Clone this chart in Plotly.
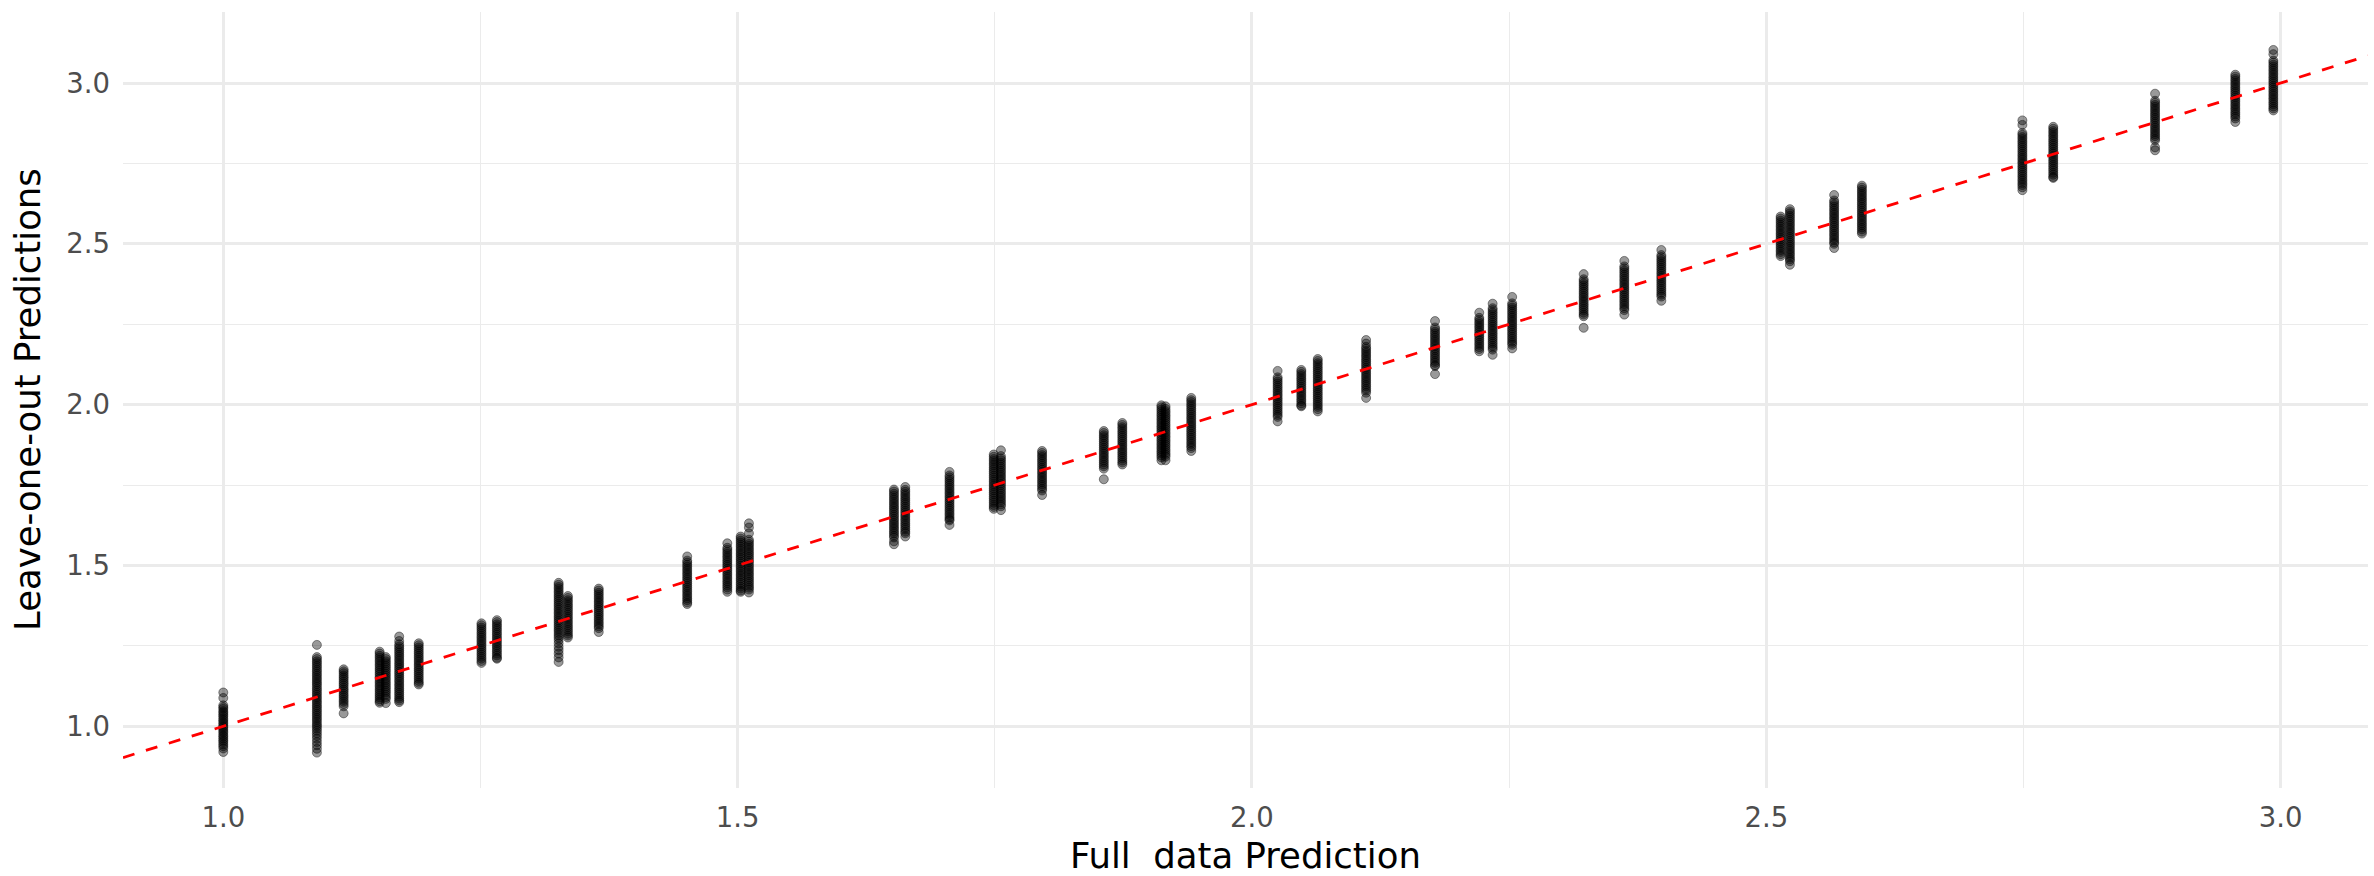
import plotly.graph_objects as go

# Full-data prediction (x) for each leave-one-out cluster
cluster_x = [1.000, 1.091, 1.117, 1.152, 1.158, 1.171, 1.190, 1.251, 1.266, 1.326,
             1.335, 1.365, 1.451, 1.490, 1.503, 1.511, 1.652, 1.663, 1.706, 1.749,
             1.756, 1.796, 1.856, 1.874, 1.912, 1.916, 1.941, 2.025, 2.048, 2.064,
             2.111, 2.178, 2.221, 2.234, 2.253, 2.3225, 2.362, 2.398, 2.514, 2.523,
             2.566, 2.593, 2.749, 2.779, 2.878, 2.956, 2.993]

# Leave-one-out predictions per cluster
y01 = [1.105, 1.088, 1.065, 1.059, 1.054, 1.047, 1.042, 1.036, 1.031, 1.024, 1.019, 1.013, 1.008, 1.002, 0.997, 0.991, 0.985, 0.980, 0.973, 0.968, 0.962, 0.956, 0.951, 0.944, 0.938, 0.931, 0.920]
y02 = [1.253, 1.215, 1.209, 1.202, 1.196, 1.189, 1.183, 1.176, 1.170, 1.163, 1.157, 1.150, 1.144, 1.137, 1.131, 1.124, 1.117, 1.111, 1.104, 1.098, 1.091, 1.085, 1.078, 1.072, 1.065, 1.059, 1.052, 1.046, 1.039, 1.033, 1.026, 1.020, 1.013, 1.006, 1.000, 0.993, 0.986, 0.978, 0.970, 0.961, 0.951, 0.941, 0.930, 0.918]
y03 = [1.177, 1.171, 1.165, 1.158, 1.152, 1.146, 1.139, 1.133, 1.127, 1.120, 1.114, 1.108, 1.101, 1.095, 1.089, 1.082, 1.076, 1.069, 1.062, 1.040]
y04 = [1.232, 1.226, 1.219, 1.213, 1.206, 1.200, 1.193, 1.187, 1.180, 1.174, 1.167, 1.161, 1.154, 1.148, 1.141, 1.135, 1.128, 1.122, 1.115, 1.109, 1.102, 1.096, 1.090, 1.084, 1.078, 1.073]
y05 = [1.215, 1.209, 1.202, 1.196, 1.189, 1.183, 1.176, 1.170, 1.163, 1.157, 1.150, 1.144, 1.137, 1.131, 1.124, 1.118, 1.111, 1.105, 1.098, 1.091, 1.085, 1.072]
y06 = [1.279, 1.265, 1.255, 1.248, 1.242, 1.235, 1.229, 1.222, 1.216, 1.209, 1.203, 1.196, 1.190, 1.183, 1.177, 1.170, 1.164, 1.157, 1.151, 1.144, 1.138, 1.131, 1.125, 1.118, 1.112, 1.105, 1.099, 1.092, 1.086, 1.080, 1.075]
y07 = [1.258, 1.252, 1.245, 1.239, 1.232, 1.226, 1.219, 1.213, 1.206, 1.200, 1.193, 1.187, 1.180, 1.174, 1.167, 1.161, 1.154, 1.148, 1.141, 1.135, 1.130]
y08 = [1.320, 1.314, 1.307, 1.301, 1.294, 1.288, 1.281, 1.275, 1.268, 1.262, 1.255, 1.249, 1.242, 1.236, 1.229, 1.223, 1.216, 1.210, 1.203, 1.197]
y09 = [1.330, 1.324, 1.317, 1.311, 1.304, 1.298, 1.291, 1.285, 1.278, 1.272, 1.265, 1.259, 1.252, 1.246, 1.239, 1.233, 1.226, 1.220, 1.213, 1.210]
y10 = [1.446, 1.440, 1.433, 1.427, 1.420, 1.414, 1.407, 1.401, 1.394, 1.388, 1.381, 1.375, 1.368, 1.362, 1.355, 1.349, 1.342, 1.336, 1.329, 1.323, 1.316, 1.310, 1.303, 1.297, 1.290, 1.283, 1.276, 1.268, 1.258, 1.247, 1.237, 1.226, 1.214, 1.200]
y11 = [1.405, 1.399, 1.392, 1.386, 1.379, 1.373, 1.366, 1.360, 1.353, 1.347, 1.340, 1.334, 1.327, 1.321, 1.314, 1.308, 1.301, 1.295, 1.288, 1.282, 1.276]
y12 = [1.428, 1.422, 1.415, 1.409, 1.402, 1.396, 1.389, 1.383, 1.376, 1.370, 1.363, 1.357, 1.350, 1.344, 1.337, 1.331, 1.324, 1.318, 1.311, 1.305, 1.293]
y13 = [1.528, 1.515, 1.509, 1.502, 1.496, 1.489, 1.483, 1.476, 1.470, 1.463, 1.457, 1.450, 1.444, 1.437, 1.431, 1.424, 1.418, 1.411, 1.405, 1.398, 1.392, 1.385, 1.380]
y14 = [1.569, 1.555, 1.549, 1.542, 1.536, 1.529, 1.523, 1.516, 1.510, 1.503, 1.497, 1.490, 1.484, 1.477, 1.471, 1.464, 1.458, 1.451, 1.445, 1.438, 1.432, 1.425, 1.418]
y15 = [1.590, 1.584, 1.577, 1.571, 1.564, 1.558, 1.551, 1.545, 1.538, 1.532, 1.525, 1.519, 1.512, 1.506, 1.499, 1.493, 1.486, 1.480, 1.473, 1.467, 1.460, 1.454, 1.447, 1.441, 1.434, 1.428, 1.422, 1.418]
y16 = [1.631, 1.618, 1.600, 1.580, 1.574, 1.567, 1.561, 1.554, 1.548, 1.541, 1.535, 1.528, 1.522, 1.515, 1.509, 1.502, 1.496, 1.489, 1.483, 1.476, 1.470, 1.463, 1.457, 1.450, 1.444, 1.437, 1.431, 1.425, 1.416]
y17 = [1.736, 1.730, 1.723, 1.717, 1.710, 1.704, 1.697, 1.691, 1.684, 1.678, 1.671, 1.665, 1.658, 1.652, 1.645, 1.639, 1.632, 1.626, 1.619, 1.613, 1.606, 1.600, 1.593, 1.587, 1.575, 1.566]
y18 = [1.744, 1.735, 1.729, 1.722, 1.716, 1.709, 1.703, 1.696, 1.690, 1.683, 1.677, 1.670, 1.664, 1.657, 1.651, 1.644, 1.638, 1.631, 1.625, 1.618, 1.612, 1.605, 1.600, 1.590]
y19 = [1.791, 1.780, 1.774, 1.767, 1.761, 1.754, 1.748, 1.741, 1.735, 1.728, 1.722, 1.715, 1.709, 1.702, 1.696, 1.689, 1.683, 1.676, 1.670, 1.663, 1.657, 1.650, 1.644, 1.640, 1.626]
y20 = [1.845, 1.838, 1.831, 1.825, 1.818, 1.812, 1.805, 1.799, 1.792, 1.786, 1.779, 1.773, 1.766, 1.760, 1.753, 1.747, 1.740, 1.734, 1.727, 1.721, 1.714, 1.708, 1.701, 1.695, 1.688, 1.682, 1.676]
y21 = [1.858, 1.840, 1.833, 1.827, 1.820, 1.814, 1.807, 1.801, 1.794, 1.788, 1.781, 1.775, 1.768, 1.762, 1.755, 1.749, 1.742, 1.736, 1.729, 1.723, 1.716, 1.710, 1.703, 1.697, 1.690, 1.684, 1.672]
y22 = [1.856, 1.850, 1.843, 1.837, 1.830, 1.824, 1.817, 1.811, 1.804, 1.798, 1.791, 1.785, 1.778, 1.772, 1.765, 1.759, 1.752, 1.746, 1.739, 1.733, 1.719]
y23 = [1.918, 1.912, 1.905, 1.899, 1.892, 1.886, 1.879, 1.873, 1.866, 1.860, 1.853, 1.847, 1.840, 1.834, 1.827, 1.821, 1.814, 1.808, 1.801, 1.768]
y24 = [1.943, 1.937, 1.930, 1.924, 1.917, 1.911, 1.904, 1.898, 1.891, 1.885, 1.878, 1.872, 1.865, 1.859, 1.852, 1.846, 1.839, 1.833, 1.826, 1.820, 1.814]
y25 = [1.998, 1.992, 1.985, 1.979, 1.972, 1.966, 1.959, 1.953, 1.946, 1.940, 1.933, 1.927, 1.920, 1.914, 1.907, 1.901, 1.894, 1.888, 1.881, 1.875, 1.868, 1.862, 1.855, 1.849, 1.842, 1.836, 1.827]
y26 = [1.995, 1.987, 1.980, 1.974, 1.967, 1.961, 1.954, 1.948, 1.941, 1.935, 1.928, 1.922, 1.915, 1.909, 1.902, 1.896, 1.889, 1.883, 1.876, 1.870, 1.863, 1.857, 1.850, 1.844, 1.838, 1.827]
y27 = [2.021, 2.014, 2.008, 2.001, 1.995, 1.988, 1.982, 1.975, 1.969, 1.962, 1.956, 1.949, 1.943, 1.936, 1.930, 1.923, 1.917, 1.910, 1.904, 1.897, 1.891, 1.884, 1.878, 1.871, 1.865, 1.856]
y28 = [2.105, 2.085, 2.079, 2.072, 2.066, 2.059, 2.053, 2.046, 2.040, 2.033, 2.027, 2.020, 2.014, 2.007, 2.001, 1.994, 1.988, 1.981, 1.975, 1.968, 1.962, 1.948]
y29 = [2.108, 2.102, 2.095, 2.089, 2.082, 2.076, 2.069, 2.063, 2.056, 2.050, 2.043, 2.037, 2.030, 2.024, 2.017, 2.011, 2.004, 1.998, 1.995]
y30 = [2.142, 2.136, 2.129, 2.123, 2.116, 2.110, 2.103, 2.097, 2.090, 2.084, 2.077, 2.071, 2.064, 2.058, 2.051, 2.045, 2.038, 2.032, 2.025, 2.019, 2.012, 2.006, 1.999, 1.993, 1.986, 1.979]
y31 = [2.201, 2.190, 2.180, 2.174, 2.167, 2.161, 2.154, 2.148, 2.141, 2.135, 2.128, 2.122, 2.115, 2.109, 2.102, 2.096, 2.089, 2.083, 2.076, 2.070, 2.063, 2.057, 2.050, 2.044, 2.037, 2.021]
y32 = [2.260, 2.240, 2.234, 2.227, 2.221, 2.214, 2.208, 2.201, 2.195, 2.188, 2.182, 2.175, 2.169, 2.162, 2.156, 2.149, 2.143, 2.136, 2.130, 2.123, 2.120, 2.095]
y33 = [2.286, 2.270, 2.264, 2.257, 2.251, 2.244, 2.238, 2.231, 2.225, 2.218, 2.212, 2.205, 2.199, 2.192, 2.186, 2.179, 2.173, 2.166]
y34 = [2.314, 2.300, 2.294, 2.287, 2.281, 2.274, 2.268, 2.261, 2.255, 2.248, 2.242, 2.235, 2.229, 2.222, 2.216, 2.209, 2.203, 2.196, 2.190, 2.183, 2.177, 2.171, 2.155]
y35 = [2.335, 2.315, 2.309, 2.302, 2.296, 2.289, 2.283, 2.276, 2.270, 2.263, 2.257, 2.250, 2.244, 2.237, 2.231, 2.224, 2.218, 2.211, 2.205, 2.198, 2.192, 2.186, 2.175]
y36 = [2.406, 2.390, 2.384, 2.377, 2.371, 2.364, 2.358, 2.351, 2.345, 2.338, 2.332, 2.325, 2.319, 2.312, 2.306, 2.299, 2.293, 2.286, 2.280, 2.275, 2.239]
y37 = [2.447, 2.430, 2.424, 2.417, 2.411, 2.404, 2.398, 2.391, 2.385, 2.378, 2.372, 2.365, 2.359, 2.352, 2.346, 2.339, 2.333, 2.326, 2.320, 2.313, 2.307, 2.300, 2.294, 2.280]
y38 = [2.481, 2.465, 2.459, 2.452, 2.446, 2.439, 2.433, 2.426, 2.420, 2.413, 2.407, 2.400, 2.394, 2.387, 2.381, 2.374, 2.368, 2.361, 2.355, 2.348, 2.342, 2.336, 2.323]
y39 = [2.585, 2.579, 2.572, 2.566, 2.559, 2.553, 2.546, 2.540, 2.533, 2.527, 2.520, 2.514, 2.507, 2.501, 2.494, 2.488, 2.481, 2.475, 2.468, 2.462]
y40 = [2.608, 2.601, 2.595, 2.588, 2.582, 2.575, 2.569, 2.562, 2.556, 2.549, 2.543, 2.536, 2.530, 2.523, 2.517, 2.510, 2.504, 2.497, 2.491, 2.484, 2.478, 2.471, 2.465, 2.458, 2.452, 2.446, 2.435]
y41 = [2.652, 2.635, 2.629, 2.622, 2.616, 2.609, 2.603, 2.596, 2.590, 2.583, 2.577, 2.570, 2.564, 2.557, 2.551, 2.544, 2.538, 2.531, 2.525, 2.518, 2.512, 2.505, 2.500, 2.487]
y42 = [2.681, 2.675, 2.668, 2.662, 2.655, 2.649, 2.642, 2.636, 2.629, 2.623, 2.616, 2.610, 2.603, 2.597, 2.590, 2.584, 2.577, 2.571, 2.564, 2.558, 2.551, 2.545, 2.538, 2.532]
y43 = [2.884, 2.870, 2.845, 2.839, 2.832, 2.826, 2.819, 2.813, 2.806, 2.800, 2.793, 2.787, 2.780, 2.774, 2.767, 2.761, 2.754, 2.748, 2.741, 2.735, 2.728, 2.722, 2.715, 2.709, 2.702, 2.696, 2.689, 2.683, 2.676, 2.667]
y44 = [2.864, 2.858, 2.851, 2.845, 2.838, 2.832, 2.825, 2.819, 2.812, 2.806, 2.799, 2.793, 2.786, 2.780, 2.773, 2.767, 2.760, 2.754, 2.747, 2.741, 2.734, 2.728, 2.721, 2.715, 2.708, 2.705]
y45 = [2.967, 2.945, 2.939, 2.932, 2.926, 2.919, 2.913, 2.906, 2.900, 2.893, 2.887, 2.880, 2.874, 2.867, 2.861, 2.854, 2.848, 2.841, 2.835, 2.828, 2.822, 2.800, 2.791]
y46 = [3.026, 3.020, 3.013, 3.007, 3.000, 2.994, 2.987, 2.981, 2.974, 2.968, 2.961, 2.955, 2.948, 2.942, 2.935, 2.929, 2.922, 2.916, 2.909, 2.903, 2.896, 2.890, 2.879]
y47 = [3.103, 3.090, 3.070, 3.064, 3.057, 3.051, 3.044, 3.038, 3.031, 3.025, 3.018, 3.012, 3.005, 2.999, 2.992, 2.986, 2.979, 2.973, 2.966, 2.960, 2.953, 2.947, 2.940, 2.934, 2.927, 2.921, 2.915]

loo_lists = [y01, y02, y03, y04, y05, y06, y07, y08, y09, y10, y11, y12, y13, y14, y15, y16,
             y17, y18, y19, y20, y21, y22, y23, y24, y25, y26, y27, y28, y29, y30, y31, y32,
             y33, y34, y35, y36, y37, y38, y39, y40, y41, y42, y43, y44, y45, y46, y47]

x_ticks = [1.0, 1.5, 2.0, 2.5, 3.0]
y_ticks = [1.0, 1.5, 2.0, 2.5, 3.0]
x_range = [0.9025, 3.085]
y_range = [0.808, 3.221]

xs, ys = [], []
for cx, vals in zip(cluster_x, loo_lists):
    xs.extend([cx] * len(vals))
    ys.extend(vals)

fig = go.Figure()
fig.add_trace(go.Scatter(
    x=xs, y=ys, mode="markers",
    marker=dict(size=9, color="rgba(0,0,0,0.40)",
                line=dict(width=1, color="rgba(0,0,0,0.42)")),
    showlegend=False, hoverinfo="skip"))
fig.add_trace(go.Scatter(
    x=x_range, y=x_range, mode="lines",
    line=dict(color="#FF0000", width=2.8, dash="12px,12px"),
    showlegend=False, hoverinfo="skip"))

FONT = "DejaVu Sans"
grid = "#EBEBEB"
axis_common = dict(
    showline=False, zeroline=False, ticks="", showgrid=True,
    gridcolor=grid, gridwidth=2.6,
    tickfont=dict(family=FONT, size=27.5, color="#4D4D4D"),
    minor=dict(dtick=0.25, tick0=1.0, showgrid=True, gridcolor=grid, gridwidth=1.4),
)
fig.update_xaxes(range=x_range, tickvals=x_ticks, ticktext=[f"{v:.1f}" for v in x_ticks],
                 ticklabelstandoff=10, **axis_common)
fig.update_yaxes(range=y_range, tickvals=y_ticks, ticktext=[f"{v:.1f}" for v in y_ticks],
                 ticklabelstandoff=12, **axis_common)

fig.update_layout(
    width=2374, height=876,
    margin=dict(l=123, r=6, t=12, b=88),
    paper_bgcolor="white", plot_bgcolor="white",
    font=dict(family=FONT),
    annotations=[
        dict(text="Full \u00a0data Prediction", xref="paper", yref="paper",
             x=0.5, y=0, xanchor="center", yanchor="middle", yshift=-67, borderpad=0,
             showarrow=False, font=dict(family=FONT, size=35.5, color="black")),
        dict(text="Leave-one-out Predictions", xref="paper", yref="paper",
             x=0, y=0.5, xanchor="center", yanchor="middle", xshift=-96, borderpad=0,
             textangle=-90, showarrow=False,
             font=dict(family=FONT, size=35.5, color="black")),
    ],
)

fig.write_html("out.html")
